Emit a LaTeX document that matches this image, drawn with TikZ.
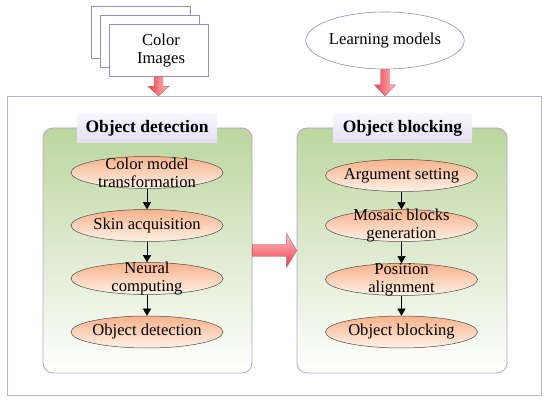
\documentclass[tikz,border=0pt]{standalone}
\usepackage{fontspec}
\setmainfont{Liberation Serif}
\usetikzlibrary{shapes.geometric,arrows.meta,calc}
\definecolor{framec}{RGB}{185,178,208}
\definecolor{panelc}{RGB}{180,165,205}
\definecolor{greentop}{RGB}{188,214,158}
\definecolor{titletop}{RGB}{248,246,252}
\definecolor{titlebot}{RGB}{226,222,240}
\definecolor{peachtop}{RGB}{247,178,138}
\definecolor{peachbot}{RGB}{255,242,232}
\definecolor{cardc}{RGB}{150,140,190}
\definecolor{redA}{RGB}{236,62,74}
\definecolor{redB}{RGB}{255,196,196}
\definecolor{redline}{RGB}{190,90,100}
\tikzset{
  frame/.style={draw=framec, line width=1.2pt, fill=white, inner sep=0pt},
  imgcard/.style={draw=cardc, line width=0.6pt, fill=white, minimum width=99pt, minimum height=52pt, inner sep=0pt},
  learn/.style={ellipse, draw=cardc, line width=0.6pt, fill=white, minimum width=158pt, minimum height=57pt, inner sep=0pt, font=\fontsize{16.6}{19}\selectfont},
  panel/.style={draw=panelc, line width=0.8pt, rounded corners=10pt, top color=greentop, bottom color=white, inner sep=0pt},
  titlebox/.style={top color=titletop, bottom color=titlebot, minimum width=140pt, minimum height=29pt, inner sep=0pt, font=\fontsize{17.5}{19}\selectfont\bfseries},
  proc/.style={ellipse, draw=black!70, line width=0.5pt, top color=peachtop, bottom color=peachbot, minimum width=152pt, minimum height=32pt, inner sep=0pt},
  ptext/.style={align=center, inner sep=0pt, font=\fontsize{16.6}{18}\selectfont},
  flow/.style={-{Triangle[length=7pt,width=8pt]}, line width=0.5pt, black},
  reddown/.style={draw=redline, line width=0.4pt, left color=redA, right color=redB},
  redright/.style={draw=redline, line width=0.4pt, top color=redB, bottom color=redA},
}
\begin{document}
\begin{tikzpicture}[x=1pt,y=-1pt]
\useasboundingbox (0,0) rectangle (550,403);
% outer frame
\node[frame, minimum width=534pt, minimum height=299pt] (outer) at (274.5,246) {};
% colour image stack
\node[imgcard] (img3) at (141,32.5) {};
\node[imgcard] (img2) at (149.5,41.5) {};
\node[imgcard] (img1) at (158.5,50.5) {};
\node[ptext] (imgtxt) at (161,51) {Color\\Images};
% learning models
\node[learn] (learn) at (385,40.5) {Learning models};
% panels
\node[panel, minimum width=209pt, minimum height=245pt] (pd) at (147.5,250.5) {};
\node[panel, minimum width=210pt, minimum height=245pt] (pb) at (402,250.5) {};
\node[titlebox] (td) at (147,128.5) {Object detection};
\node[titlebox, minimum width=139pt] (tb) at (402.5,128.5) {Object blocking};
% detection steps
\node[proc] (d1) at (147,172.5) {};
\node[ptext] at (d1) {Color model\\transformation};
\node[proc] (d2) at (147,225.5) {};
\node[ptext] at (d2) {Skin acquisition};
\node[proc] (d3) at (147,278.5) {};
\node[ptext] at (d3) {Neural\\computing};
\node[proc] (d4) at (147,332) {};
\node[ptext] at (d4) {Object detection};
% blocking steps
\node[proc] (b1) at (401.5,175.5) {};
\node[ptext] at (b1) {Argument setting};
\node[proc] (b2) at (401.5,225.5) {};
\node[ptext] at (b2) {Mosaic blocks\\generation};
\node[proc] (b3) at (401.5,279.5) {};
\node[ptext] at (b3) {Position\\alignment};
\node[proc] (b4) at (401.5,332) {};
\node[ptext] at (b4) {Object blocking};
% flows
\draw[flow] (d1) -- (d2);
\draw[flow] (d2) -- (d3);
\draw[flow] (d3) -- (d4);
\draw[flow] (b1) -- (b2);
\draw[flow] (b2) -- (b3);
\draw[flow] (b3) -- (b4);
% block arrows
\path[reddown] let \p1=(img1.south), \p2=($(img1.south |- outer.north)$) in
  (\x1-4.5pt,\y1) -- (\x1+4.5pt,\y1) -- (\x1+4.5pt,\y2+9.5pt) -- (\x1+10.5pt,\y2+9.5pt)
  -- (\x1,\y2) -- (\x1-10.5pt,\y2+9.5pt) -- (\x1-4.5pt,\y2+9.5pt) -- cycle;
\path[reddown] let \p1=(learn.south), \p2=($(learn.south |- outer.north)$) in
  (\x1-4.5pt,\y1) -- (\x1+4.5pt,\y1) -- (\x1+4.5pt,\y2+11pt) -- (\x1+10.5pt,\y2+11pt)
  -- (\x1,\y2) -- (\x1-10.5pt,\y2+11pt) -- (\x1-4.5pt,\y2+11pt) -- cycle;
\coordinate (ma) at ($(pd.east)+(0,0)$);
\path[redright] let \p1=(ma), \p2=($(ma -| pb.west)$) in
  (\x1,\y1+6pt) -- (\x2-10pt,\y1+6pt) -- (\x2-10pt,\y1+17pt) -- (\x2,\y1)
  -- (\x2-10pt,\y1-17pt) -- (\x2-10pt,\y1-6pt) -- (\x1,\y1-6pt) -- cycle;
\end{tikzpicture}
\end{document}
